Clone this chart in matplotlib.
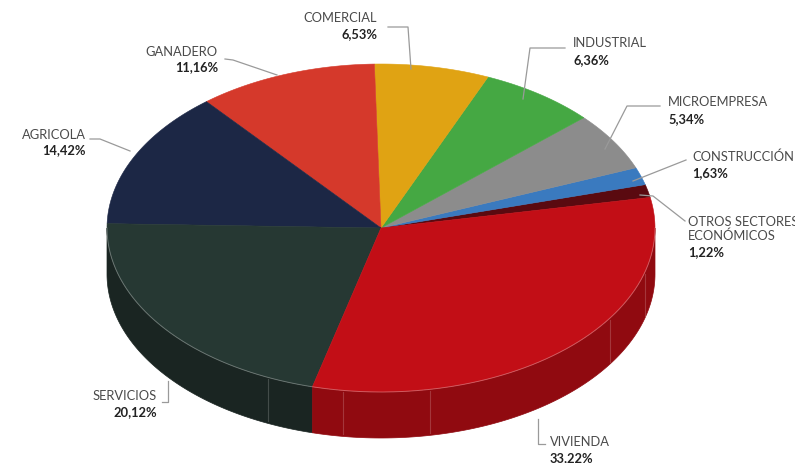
import numpy as np
import matplotlib.pyplot as plt
from matplotlib.patches import Polygon

# cartera por sector, en el orden en que se dibujan (antihorario)
sectores = ["OTROS SECTORES\nECONÓMICOS", "CONSTRUCCIÓN", "MICROEMPRESA", "INDUSTRIAL",
            "COMERCIAL", "GANADERO", "AGRICOLA", "SERVICIOS", "VIVIENDA"]
valores = [1.22, 1.63, 5.34, 6.36, 6.53, 11.16, 14.42, 20.12, 33.22]
colores = ["#5a0a10", "#3a7abf", "#8c8c8c", "#45a843", "#e0a313",
           "#d5392b", "#1c2745", "#263833", "#c20e16"]
lados = ["#3d070b", "#285788", "#666666", "#317a30", "#a5780e",
         "#9c2a20", "#121a2e", "#1a2522", "#900a10"]

cx, cy = 381, 229
rx, ry = 274, 164
prof = 46
inicio = 13.0


def elipse(t, dy=0):
    t = np.radians(t)
    return np.column_stack([cx + rx * np.cos(t), cy - ry * np.sin(t) + dy])


def perspectiva(t):
    # ligera deformacion angular de la vista 3D
    t = np.asarray(t, dtype=float)
    return t - 2.5 * np.cos(np.radians(2 * t))


fig = plt.figure(figsize=(7.95, 4.64), dpi=100)
ax = fig.add_axes([0, 0, 1, 1])
ax.set_xlim(0, 795)
ax.set_ylim(464, 0)
ax.axis('off')

angulos = perspectiva(inicio + np.concatenate([[0], np.cumsum(valores)]) * 3.6)

# paredes laterales (solo la mitad frontal es visible)
for i in range(len(valores)):
    a, b = angulos[i], angulos[i + 1]
    for off in (0, 360):
        lo, hi = max(a, 180 + off), min(b, 360 + off)
        if hi <= lo:
            continue
        t = np.linspace(lo, hi, 120)
        arriba = elipse(t)
        abajo = elipse(t[::-1], prof)
        ax.add_patch(Polygon(np.vstack([arriba, abajo]), closed=True,
                             fc=lados[i], ec=lados[i], lw=0.5))

# costuras tenues en la pared
for t in [245.7, 262, 280.3, 326.7, 344.6]:
    p = elipse([t, t], np.array([2, prof - 2]))
    ax.plot(p[:, 0], p[:, 1], color="white", alpha=0.18, lw=0.8)

# cara superior
for i in range(len(valores)):
    t = np.linspace(angulos[i], angulos[i + 1], 150)
    pts = np.vstack([[cx, cy], elipse(t)])
    ax.add_patch(Polygon(pts, closed=True, fc=colores[i], ec=colores[i], lw=0.4))

borde = elipse(np.linspace(180, 360, 300))
ax.plot(borde[:, 0], borde[:, 1], color="white", alpha=0.3, lw=0.7)

# etiquetas: (x, y nombre, y porcentaje, alineacion)
etiquetas = {
    "OTROS SECTORES\nECONÓMICOS": (688, 229, 252, "left"),
    "CONSTRUCCIÓN": (692, 157, 173, "left"),
    "MICROEMPRESA": (668, 102, 119, "left"),
    "INDUSTRIAL": (573, 43, 60, "left"),
    "COMERCIAL": (377, 18, 34, "right"),
    "GANADERO": (218, 52, 67, "right"),
    "AGRICOLA": (86, 135, 150, "right"),
    "SERVICIOS": (157, 396, 412, "right"),
    "VIVIENDA": (550, 442, 458, "left"),
}
conectores = {
    "OTROS SECTORES\nECONÓMICOS": [(685, 222), (653, 197), (640, 196)],
    "CONSTRUCCIÓN": [(686, 161), (633, 182)],
    "MICROEMPRESA": [(660, 107), (627, 107), (605, 150)],
    "INDUSTRIAL": [(565, 49), (530, 49), (523, 100)],
    "COMERCIAL": [(388, 28), (408, 28), (411, 70)],
    "GANADERO": [(225, 60), (233, 61), (277, 76)],
    "AGRICOLA": [(90, 140), (100, 140), (130, 152)],
    "SERVICIOS": [(162, 403), (168, 403), (168, 382)],
    "VIVIENDA": [(545, 445), (538, 445), (538, 420)],
}

for nombre, v in zip(sectores, valores):
    x, yn, yp, al = etiquetas[nombre]
    ax.text(x, yn, nombre, ha=al, va="center", fontsize=9.3, family="Lato",
            color="#4a4a4a", linespacing=1.15)
    ax.text(x, yp, f"{v:.2f}".replace(".", ",") + "%", ha=al, va="center",
            fontsize=9.3, family="Lato", fontweight="bold", color="#222222")
    c = np.array(conectores[nombre])
    ax.plot(c[:, 0], c[:, 1], color="#9a9a9a", lw=0.9)

fig.savefig("out.png", dpi=100)
